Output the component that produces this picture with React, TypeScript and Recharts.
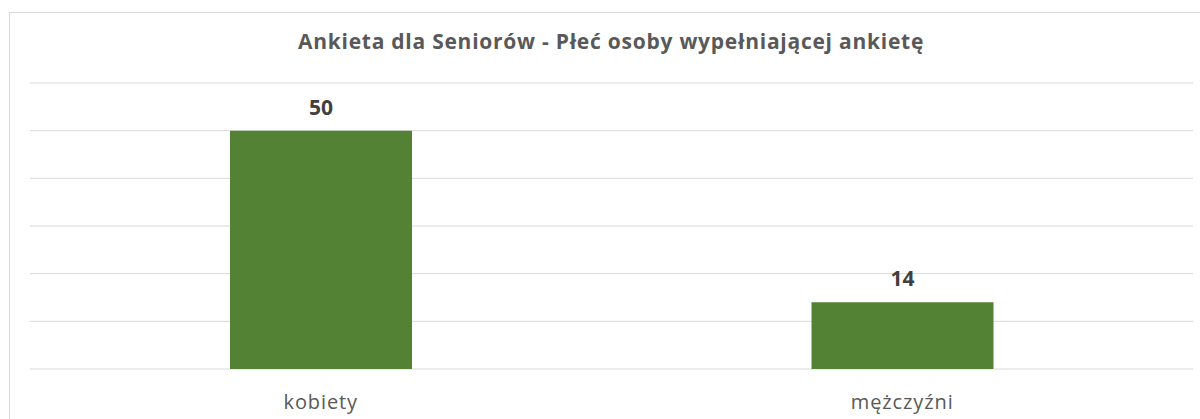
import React from 'react';
import { BarChart, Bar, XAxis, YAxis, CartesianGrid, LabelList } from 'recharts';

const categories = ['kobiety', 'mężczyźni'];
const counts = [50, 14];
const yTicks = [0, 10, 20, 30, 40, 50, 60];
const title = 'Ankieta dla Seniorów - Płeć osoby wypełniającej ankietę';

const data = categories.map((c, i) => ({ name: c, value: counts[i] }));

const FONT = '"Open Sans", "Noto Sans", sans-serif';

export default function App() {
  return (
    <div style={{ position: 'absolute', left: 0, top: 0, width: 1200, height: 419, background: '#fff', overflow: 'hidden', fontFamily: FONT }}>
      <div style={{ position: 'absolute', left: 9, top: 12, width: 1300, height: 500, borderTop: '1px solid #d9d9d9', borderLeft: '1px solid #d9d9d9', boxSizing: 'border-box' }} />
      <div style={{ position: 'absolute', left: 0, top: 27, width: 1222, textAlign: 'center', fontSize: 21, fontWeight: 700, letterSpacing: 0.75, color: '#595959', fontFamily: FONT, whiteSpace: 'nowrap' }}>
        {title}
      </div>
      <div style={{ position: 'absolute', left: 0, top: 0 }}>
        <BarChart width={1200} height={419} data={data} margin={{ top: 83, right: 7, bottom: 20, left: 30 }}>
          <CartesianGrid horizontal vertical={false} stroke="#d9d9d9" strokeWidth={1} />
          <YAxis hide domain={[0, 60]} ticks={yTicks} />
          <XAxis dataKey="name" axisLine={false} tickLine={false} tick={{ fill: '#595959', fontSize: 20, fontFamily: FONT, letterSpacing: 0.9 }} tickMargin={20} />
          <Bar dataKey="value" fill="#548235" barSize={182} isAnimationActive={false}>
            <LabelList dataKey="value" position="top" offset={16} style={{ fill: '#404040', fontSize: 21, fontWeight: 700, fontFamily: FONT }} />
          </Bar>
        </BarChart>
      </div>
    </div>
  );
}
